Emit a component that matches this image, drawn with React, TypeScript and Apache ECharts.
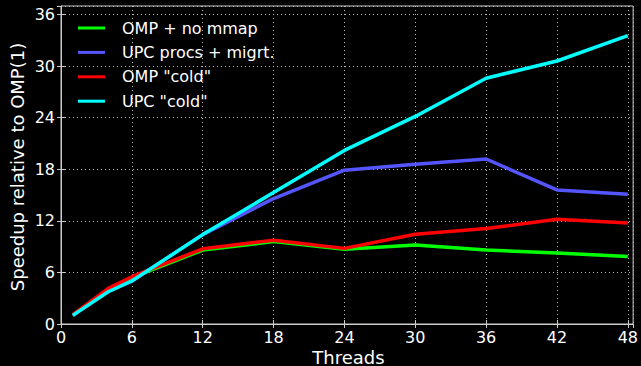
import React, { useEffect, useRef } from "react";
import * as echarts from "echarts";

const threads = [1, 4, 6, 12, 18, 24, 30, 36, 42, 48];
const ompNoMmap = [1.0, 4.0, 5.4, 8.6, 9.6, 8.7, 9.2, 8.6, 8.25, 7.85];
const upcMigrt = [1.0, 3.8, 5.0, 10.4, 14.6, 17.9, 18.6, 19.2, 15.6, 15.1];
const ompCold = [1.1, 4.15, 5.5, 8.75, 9.75, 8.8, 10.45, 11.1, 12.2, 11.75];
const upcCold = [1.0, 3.75, 5.0, 10.4, 15.3, 20.2, 24.15, 28.6, 30.6, 33.55];

const seriesNames = ["OMP + no mmap", "UPC procs + migrt.", 'OMP "cold"', 'UPC "cold"'];
const seriesColors = ["#00ff00", "#5555ff", "#ff0000", "#00ffff"];
const seriesValues = [ompNoMmap, upcMigrt, ompCold, upcCold];

const FONT = "DejaVu Sans";
const FRAME = "#cccccc";

const fmt = (v: number) => (Math.abs(v % 6) < 1e-6 ? String(v) : "");

export default function App() {
  const ref = useRef<HTMLDivElement>(null);
  useEffect(() => {
    if (!ref.current) return;
    const chart = echarts.init(ref.current, null, { renderer: "svg" });
    const gridL = 61, gridT = 6, gridW = 575, gridH = 318;
    const tickCommon = { show: true, inside: true, length: 4, lineStyle: { color: FRAME, width: 1 } };
    chart.setOption({
      animation: false,
      backgroundColor: "#000000",
      textStyle: { fontFamily: FONT },
      grid: {
        left: gridL, top: gridT, width: gridW, height: gridH,
        show: true, borderColor: FRAME, borderWidth: 1, backgroundColor: "#000000",
      },
      legend: {
        orient: "vertical",
        left: 73,
        top: 15,
        icon: "rect",
        itemWidth: 27,
        itemHeight: 3,
        itemGap: 8.4,
        data: seriesNames,
        textStyle: { color: "#ffffff", fontSize: 16, fontFamily: FONT, lineHeight: 16, padding: [0, 0, 0, 12] },
      },
      xAxis: [
        {
          type: "value", min: 0, max: 48.45, interval: 6,
          axisLine: { show: true, lineStyle: { color: FRAME, width: 1 } },
          axisTick: tickCommon,
          axisLabel: { color: "#ffffff", fontSize: 16, fontFamily: FONT, margin: 5, formatter: fmt, showMaxLabel: false },
          splitLine: { show: true, lineStyle: { color: "#bbbbbb", width: 1, type: [1, 3] } },
        },
        {
          type: "value", position: "top", min: 0, max: 48.45, interval: 6,
          axisLine: { show: false },
          axisTick: tickCommon,
          axisLabel: { show: false },
          splitLine: { show: false },
        },
      ],
      yAxis: [
        {
          type: "value", min: 0, max: 37, interval: 6,
          axisLine: { show: true, lineStyle: { color: FRAME, width: 1 } },
          axisTick: tickCommon,
          axisLabel: { color: "#ffffff", fontSize: 16, fontFamily: FONT, margin: 6, formatter: fmt, showMaxLabel: false },
          splitLine: { show: true, lineStyle: { color: "#bbbbbb", width: 1, type: [1, 3] } },
        },
        {
          type: "value", position: "right", min: 0, max: 37, interval: 6,
          axisLine: { show: false },
          axisTick: tickCommon,
          axisLabel: { show: false },
          splitLine: { show: false },
        },
      ],
      series: seriesNames.map((name, i) => ({
        name,
        type: "line",
        xAxisIndex: 0,
        yAxisIndex: 0,
        symbol: "none",
        color: seriesColors[i],
        lineStyle: { width: 3.5, color: seriesColors[i] },
        data: threads.map((t, j) => [t, seriesValues[i][j]]),
      })),
      graphic: [
        {
          type: "text",
          x: 348.5, y: 357,
          style: { text: "Threads", fill: "#ffffff", font: `18px '${FONT}'`, textAlign: "center", textVerticalAlign: "middle" },
        },
        {
          type: "text",
          x: 17, y: 167, rotation: Math.PI / 2,
          style: { text: "Speedup relative to OMP(1)", fill: "#ffffff", font: `18px '${FONT}'`, textAlign: "center", textVerticalAlign: "middle" },
        },
      ],
    });
    return () => chart.dispose();
  }, []);
  return (
    <div
      ref={ref}
      style={{ position: "fixed", left: 0, top: 0, width: 641, height: 366, background: "#000" }}
    />
  );
}
